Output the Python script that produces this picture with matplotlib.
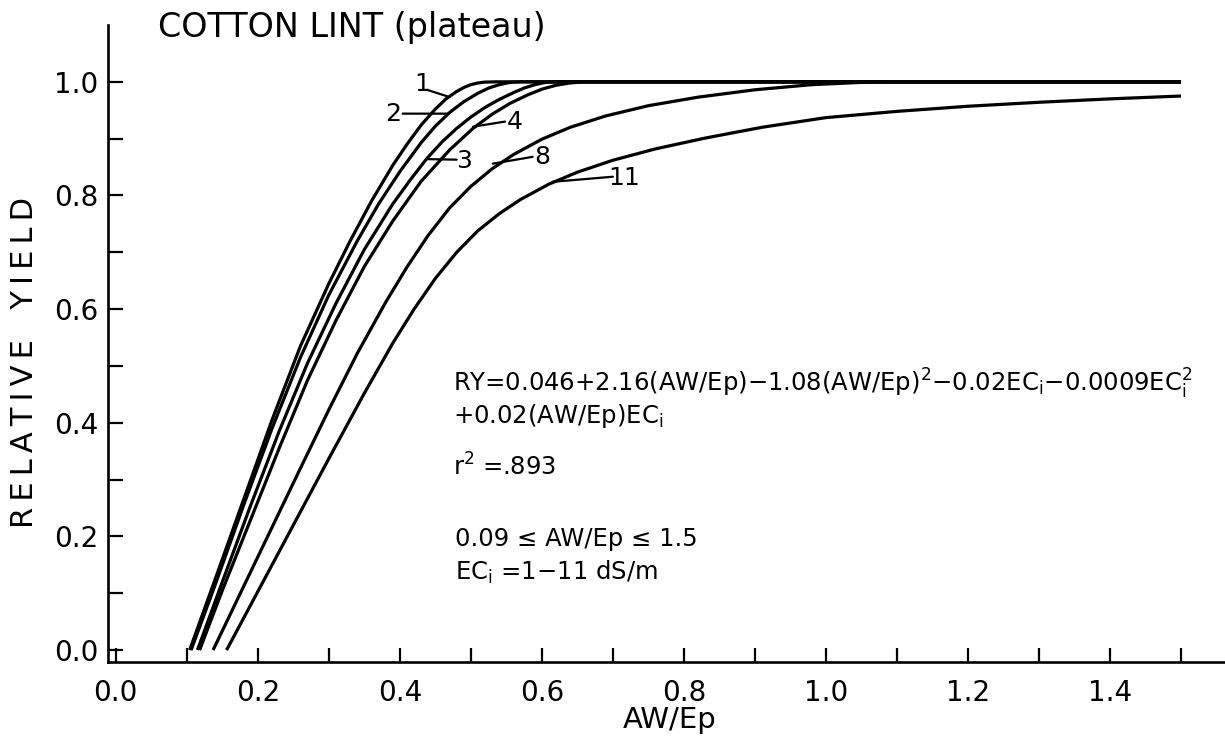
import matplotlib
matplotlib.use("Agg")
import matplotlib.pyplot as plt
from matplotlib.ticker import FixedLocator

plt.rcParams['font.family'] = ['DejaVu Sans']
plt.rcParams['mathtext.default'] = 'regular'

# ---- data ----
ec1_x = [0.104, 0.14, 0.18, 0.22, 0.26, 0.30, 0.33, 0.36, 0.39, 0.41, 0.43, 0.45, 0.465, 0.48, 0.49, 0.50, 0.51, 0.52, 0.535, 1.5]
ec1_y = [0.0, 0.125, 0.265, 0.405, 0.535, 0.645, 0.72, 0.79, 0.853, 0.89, 0.924, 0.952, 0.97, 0.983, 0.99, 0.995, 0.998, 0.9995, 1.0, 1.0]

ec2_x = [0.106, 0.14, 0.18, 0.22, 0.26, 0.30, 0.34, 0.37, 0.40, 0.43, 0.45, 0.47, 0.49, 0.51, 0.525, 0.54, 0.555, 0.57, 1.5]
ec2_y = [0.0, 0.115, 0.255, 0.39, 0.515, 0.625, 0.72, 0.785, 0.842, 0.893, 0.922, 0.946, 0.965, 0.98, 0.989, 0.995, 0.999, 1.0, 1.0]

ec3_x = [0.115, 0.15, 0.19, 0.23, 0.27, 0.31, 0.35, 0.39, 0.415, 0.438, 0.46, 0.48, 0.50, 0.52, 0.54, 0.56, 0.575, 0.59, 0.605, 0.62, 1.5]
ec3_y = [0.0, 0.12, 0.255, 0.385, 0.505, 0.61, 0.705, 0.785, 0.828, 0.865, 0.895, 0.918, 0.938, 0.955, 0.969, 0.981, 0.989, 0.995, 0.999, 1.0, 1.0]

ec4_x = [0.118, 0.15, 0.19, 0.23, 0.27, 0.31, 0.35, 0.39, 0.43, 0.47, 0.503, 0.53, 0.555, 0.58, 0.60, 0.62, 0.64, 0.66, 1.5]
ec4_y = [0.0, 0.105, 0.23, 0.355, 0.475, 0.58, 0.675, 0.755, 0.825, 0.88, 0.918, 0.943, 0.962, 0.977, 0.987, 0.994, 0.998, 1.0, 1.0]

ec8_x = [0.137, 0.18, 0.22, 0.26, 0.30, 0.34, 0.38, 0.41, 0.44, 0.47, 0.50, 0.53, 0.56, 0.60, 0.64, 0.69, 0.75, 0.82, 0.90, 0.98, 1.05, 1.1, 1.5]
ec8_y = [0.0, 0.112, 0.216, 0.32, 0.423, 0.522, 0.612, 0.674, 0.73, 0.778, 0.816, 0.847, 0.872, 0.899, 0.92, 0.94, 0.958, 0.973, 0.986, 0.995, 0.999, 1.0, 1.0]

ec11_x = [0.156, 0.20, 0.25, 0.30, 0.35, 0.39, 0.42, 0.45, 0.48, 0.51, 0.54, 0.57, 0.61, 0.65, 0.70, 0.76, 0.83, 0.91, 1.0, 1.1, 1.2, 1.3, 1.4, 1.5]
ec11_y = [0.0, 0.103, 0.22, 0.337, 0.452, 0.54, 0.6, 0.654, 0.7, 0.738, 0.768, 0.793, 0.82, 0.841, 0.862, 0.882, 0.901, 0.92, 0.937, 0.948, 0.957, 0.964, 0.97, 0.975]

curve_labels = ["1", "2", "3", "4", "8", "11"]
curves_x = [ec1_x, ec2_x, ec3_x, ec4_x, ec8_x, ec11_x]
curves_y = [ec1_y, ec2_y, ec3_y, ec4_y, ec8_y, ec11_y]

x_ticks_major = [0.0, 0.2, 0.4, 0.6, 0.8, 1.0, 1.2, 1.4]
x_tick_labels = ["0.0", "0.2", "0.4", "0.6", "0.8", "1.0", "1.2", "1.4"]
x_ticks_minor = [0.1, 0.3, 0.5, 0.7, 0.9, 1.1, 1.3, 1.5]
y_ticks_major = [0.0, 0.2, 0.4, 0.6, 0.8, 1.0]
y_tick_labels = ["0.0", "0.2", "0.4", "0.6", "0.8", "1.0"]
y_ticks_minor = [0.1, 0.3, 0.5, 0.7, 0.9]

# label placement: (text pos, leader start, leader end on curve)
label_text_pos = [(0.431, 0.997), (0.390, 0.944), (0.491, 0.861), (0.562, 0.930), (0.601, 0.868), (0.716, 0.831)]
leader_start = [(0.438, 0.986), (0.404, 0.944), (0.480, 0.863), (0.548, 0.930), (0.587, 0.868), (0.700, 0.833)]
leader_end = [(0.468, 0.974), (0.468, 0.944), (0.438, 0.864), (0.503, 0.921), (0.531, 0.856), (0.615, 0.824)]

fig = plt.figure(figsize=(12.25, 7.46), dpi=100)
ax = fig.add_axes([108/1225, 1 - 662/746, 1 - 108/1225, (662 - 25)/746])

for xs, ys in zip(curves_x, curves_y):
    ax.plot(xs, ys, color='black', lw=2.3, solid_joinstyle='round', solid_capstyle='butt')

for lab, tp, ls, le in zip(curve_labels, label_text_pos, leader_start, leader_end):
    ax.annotate("", xy=le, xytext=ls,
                arrowprops=dict(arrowstyle='-', lw=1.6, color='black', shrinkA=0, shrinkB=0))
    ax.text(tp[0], tp[1], lab, fontsize=18, ha='center', va='center')

ax.set_xlim(-0.011, 1.562)
ax.set_ylim(-0.021, 1.10)

for s in ['top', 'right']:
    ax.spines[s].set_visible(False)
for s in ['left', 'bottom']:
    ax.spines[s].set_linewidth(1.9)

ax.xaxis.set_major_locator(FixedLocator(x_ticks_major))
ax.set_xticklabels(x_tick_labels)
ax.xaxis.set_minor_locator(FixedLocator(x_ticks_minor))
ax.yaxis.set_major_locator(FixedLocator(y_ticks_major))
ax.set_yticklabels(y_tick_labels)
ax.yaxis.set_minor_locator(FixedLocator(y_ticks_minor))

ax.tick_params(axis='x', which='both', direction='in', length=10, width=1.6, labelsize=20, pad=12)
ax.tick_params(axis='y', which='both', direction='in', length=11, width=1.6, labelsize=20, pad=7)

ax.set_xlabel("AW/Ep", fontsize=21)
ax.xaxis.set_label_coords((670 - 108) / 1117, (662 - 720) / 637)
ax.xaxis.label.set_va('center')

ax.set_ylabel("R\u2009E\u2009L\u2009A\u2009T\u2009I\u2009V\u2009E\u2003Y\u2009I\u2009E\u2009L\u2009D", fontsize=22)
ax.yaxis.set_label_coords((25 - 108) / 1117, (662 - 362) / 637)
ax.yaxis.label.set_va('center')

fig.text(352/1225, 1 - 27/746, "COTTON LINT (plateau)", fontsize=24, ha='center', va='center')

fs = 17.5
ax.text(0.475, 0.443,
        "RY=0.046+2.16(AW/Ep)\u22121.08(AW/Ep)$^2$\u22120.02EC$_i$\u22120.0009EC$_i^2$\n"
        "+0.02(AW/Ep)EC$_i$",
        fontsize=fs, ha='left', va='center', linespacing=1.05)
ax.text(0.475, 0.323, "r$^2$ =.893", fontsize=fs, ha='left', va='center')
ax.text(0.477, 0.196, "0.09 \u2264 AW/Ep \u2264 1.5", fontsize=fs, ha='left', va='center')
ax.text(0.477, 0.137, "EC$_i$ =1\u221211 dS/m", fontsize=fs, ha='left', va='center')

fig.savefig("out.png", dpi=100)
